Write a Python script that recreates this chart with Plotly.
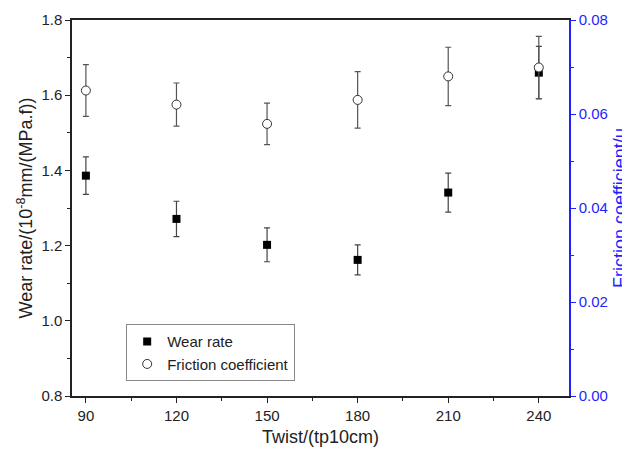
import plotly.graph_objects as go

twist = [90, 120, 150, 180, 210, 240]

wear_rate = [1.386, 1.271, 1.202, 1.162, 1.341, 1.660]
wear_err = [0.050, 0.047, 0.045, 0.040, 0.052, 0.070]

friction = [0.0650, 0.0620, 0.0579, 0.0630, 0.0680, 0.0699]
friction_err = [0.0055, 0.0046, 0.0044, 0.0060, 0.0062, 0.0066]

font = "Liberation Sans, Arial, sans-serif"
blue = "#1f1fff"

fig = go.Figure()

fig.add_trace(go.Scatter(
    x=twist, y=wear_rate, mode="markers", name="Wear rate",
    marker=dict(symbol="square", size=8, color="black"),
    error_y=dict(type="data", array=wear_err, color="#444444", thickness=1.2, width=3),
))

fig.add_trace(go.Scatter(
    x=twist, y=friction, mode="markers", name="Friction coefficient", yaxis="y2",
    marker=dict(symbol="circle", size=9, color="white", line=dict(color="#333333", width=1)),
    error_y=dict(type="data", array=friction_err, color="#555555", thickness=1.2, width=3),
))

# the page body adds an 8px offset, so the figure is 8px smaller than the window
fig.update_layout(
    width=622, height=445,
    margin=dict(l=64, r=61, t=12, b=57),
    paper_bgcolor="white", plot_bgcolor="white",
    font=dict(family=font, size=15, color="#222222"),
    showlegend=True,
    legend=dict(
        x=0.109, y=0.191, xanchor="left", yanchor="top",
        bordercolor="#888888", borderwidth=1, bgcolor="white",
        font=dict(size=15), tracegroupgap=0, itemwidth=30,
    ),
    xaxis=dict(
        range=[85.4, 250], tickvals=twist, ticks="outside", ticklen=5,
        minor=dict(tickvals=[105, 135, 165, 195, 225], ticks="outside", ticklen=3, tickcolor="#222222"),
        showline=True, linecolor="#222222", linewidth=1.5, mirror=True,
        showgrid=False, zeroline=False, tickcolor="#222222", automargin=False,
        title=dict(text="Twist/(tp10cm)", font=dict(size=18), standoff=8),
    ),
    yaxis=dict(
        range=[0.8, 1.8], tickvals=[0.8, 1.0, 1.2, 1.4, 1.6, 1.8], tickformat=".1f",
        ticks="outside", ticklen=5, tickcolor="#222222",
        minor=dict(tickvals=[0.9, 1.1, 1.3, 1.5, 1.7], ticks="outside", ticklen=3, tickcolor="#222222"),
        showline=True, linecolor="#222222", linewidth=1.5,
        showgrid=False, zeroline=False, automargin=False,
        title=dict(text="Wear rate/(10<sup>-8</sup>mm/(MPa.f))", font=dict(size=18), standoff=4),
    ),
    yaxis2=dict(
        overlaying="y", side="right", range=[0, 0.08],
        tickvals=[0, 0.02, 0.04, 0.06, 0.08], tickformat=".2f",
        ticks="outside", ticklen=5, tickcolor=blue,
        minor=dict(tickvals=[0.01, 0.03, 0.05, 0.07], ticks="outside", ticklen=3, tickcolor=blue),
        showline=True, linecolor=blue, linewidth=1.5,
        showgrid=False, zeroline=False, automargin=False,
        tickfont=dict(color=blue),
        title=dict(text="Friction coefficient/μ", font=dict(size=18, color=blue), standoff=9),
    ),
)

fig.write_html("out.html")
